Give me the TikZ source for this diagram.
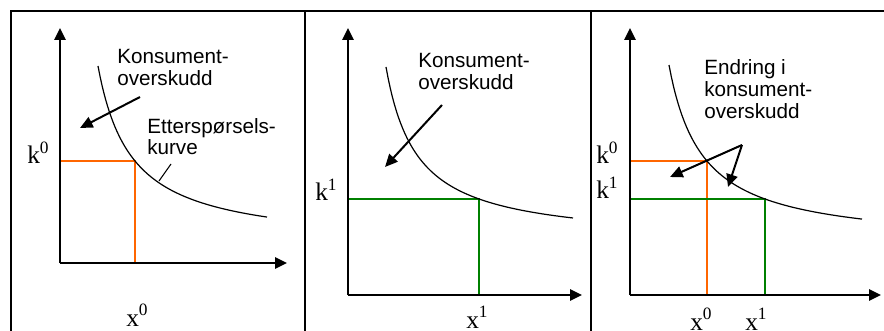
\documentclass[tikz,border=0pt]{standalone}
\usepackage{fontspec}
\setmainfont{Liberation Serif}
\newfontfamily\arialf{Liberation Sans}
\usetikzlibrary{arrows.meta}
\definecolor{orng}{RGB}{255,102,0}
\definecolor{grn}{RGB}{0,128,0}
\newcommand{\supr}[1]{\raisebox{8pt}{\fontsize{13}{13}\selectfont #1}}
\begin{document}
\begin{tikzpicture}[x=0.75pt,y=-0.75pt,
  frameline/.style={line width=1.5pt,black},
  axisline/.style={line width=1.5pt,-{Triangle[length=9pt,width=8.5pt]}},
  dcurve/.style={line width=0.9pt},
  ptr/.style={line width=1.5pt,-{Triangle[length=9.5pt,width=8.5pt]}},
  thinptr/.style={line width=0.8pt},
  oline/.style={line width=2.2pt,orng},
  gline/.style={line width=1.9pt,grn},
  lab/.style={font=\arialf\fontsize{15.5}{18}\selectfont,inner sep=0pt,anchor=base west},
  tlab/.style={font=\fontsize{19}{22}\selectfont,inner sep=0pt,anchor=base west}]
\useasboundingbox (0,0) rectangle (884,331);
% frame
\coordinate (ftl) at (11,11); \coordinate (ftr) at (884,11);
\coordinate (fbl) at (11,331);
\coordinate (d1t) at (305,11); \coordinate (d1b) at (305,331);
\coordinate (d2t) at (591,11); \coordinate (d2b) at (591,331);
\draw[frameline] (fbl) -- (ftl) -- (ftr);
\draw[frameline] (d1t) -- (d1b);
\draw[frameline] (d2t) -- (d2b);

% ---------- panel 1
\coordinate (o1) at (60,263);
\coordinate (y1) at (60,28);
\coordinate (x1) at (287,263);
\coordinate (k1a) at (60,161);
\coordinate (c1) at (135,161);
\coordinate (b1) at (135,263);
\draw[oline] (k1a) -- (c1) -- (b1);
\draw[axisline] (o1) -- (y1);
\draw[axisline] (o1) -- (x1);
\draw[dcurve] plot[domain=98:267,samples=90] (\x,{247-6064/(\x-64.5)});
\node[lab] (t1a) at (117,64) {Konsument-};
\node[lab] (t1b) at (117,86) {overskudd};
\coordinate (a1s) at (140,97); \coordinate (a1e) at (80,128);
\draw[ptr] (a1s) -- (a1e);
\node[lab] (e1a) at (147,134) {Etterspørsels-};
\node[lab] (e1b) at (147,155) {kurve};
\coordinate (p1s) at (171,164); \coordinate (p1e) at (159,181);
\draw[thinptr] (p1s) -- (p1e);
\node[tlab] (k0a) at (27,164) {k\supr{0}};
\node[tlab] (x0a) at (126,326) {x\supr{0}};

% ---------- panel 2
\coordinate (o2) at (348,295);
\coordinate (y2) at (348,28);
\coordinate (x2) at (582,295);
\coordinate (k2a) at (348,199);
\coordinate (c2) at (479,199);
\coordinate (b2) at (479,295);
\draw[gline] (k2a) -- (c2) -- (b2);
\draw[axisline] (o2) -- (y2);
\draw[axisline] (o2) -- (x2);
\draw[dcurve] plot[domain=386:573,samples=90] (\x,{243.1-5478/(\x-354.9)});
\node[lab] (t2a) at (418,68) {Konsument-};
\node[lab] (t2b) at (418,90) {overskudd};
\coordinate (a2s) at (442,105); \coordinate (a2e) at (385,167);
\draw[ptr] (a2s) -- (a2e);
\node[tlab] (k1b) at (315,201) {k\supr{1}};
\node[tlab] (x1b) at (466,328) {x\supr{1}};

% ---------- panel 3
\coordinate (o3) at (630,295);
\coordinate (y3) at (630,28);
\coordinate (x3) at (881,295);
\coordinate (k3a) at (630,161);
\coordinate (c3a) at (707,161);
\coordinate (b3a) at (707,295);
\coordinate (k3b) at (630,199);
\coordinate (c3b) at (765,199);
\coordinate (b3b) at (765,295);
\draw[oline] (k3a) -- (c3a) -- (b3a);
\draw[gline] (k3b) -- (c3b) -- (b3b);
\draw[axisline] (o3) -- (y3);
\draw[axisline] (o3) -- (x3);
\draw[dcurve] plot[domain=669:862,samples=90] (\x,{245.9-6078/(\x-635.4)});
\node[lab] (t3a) at (704,75) {Endring i};
\node[lab] (t3b) at (704,97) {konsument-};
\node[lab] (t3c) at (704,119) {overskudd};
\coordinate (a3s) at (742,145);
\coordinate (a3e) at (670,177);
\coordinate (a3f) at (728,187);
\draw[ptr] (a3s) -- (a3e);
\draw[ptr] (a3s) -- (a3f);
\node[tlab] (k0c) at (596,164) {k\supr{0}};
\node[tlab] (k1c) at (596,199) {k\supr{1}};
\node[tlab] (x0c) at (690,330) {x\supr{0}};
\node[tlab] (x1c) at (745,330) {x\supr{1}};
\end{tikzpicture}
\end{document}
